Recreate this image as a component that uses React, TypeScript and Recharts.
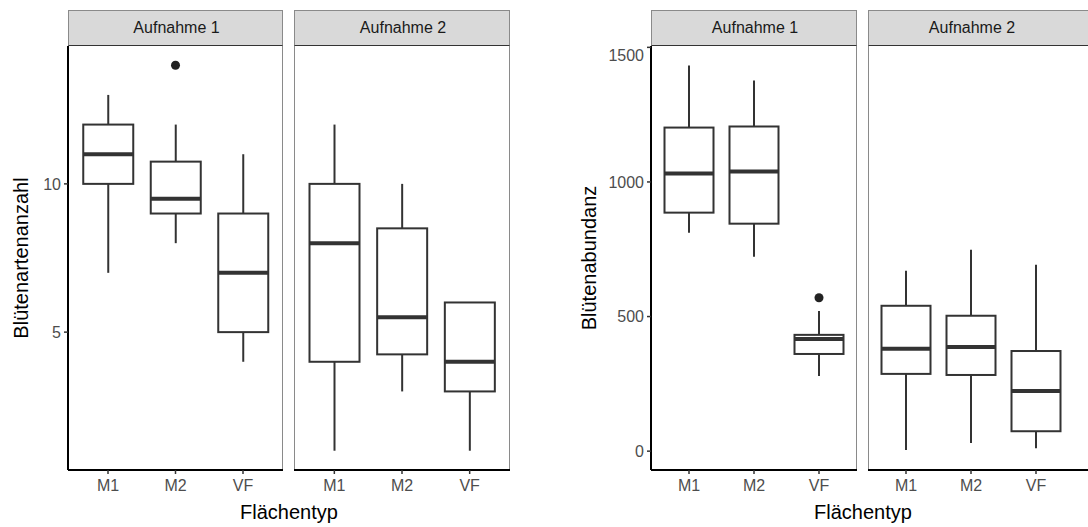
import React from 'react';
import { ComposedChart, Bar, Line, XAxis, YAxis } from 'recharts';

// Flächentypen (x-Kategorien)
const categories = ['M1', 'M2', 'VF'];

// Fünf-Punkte-Zusammenfassung je Flächentyp: [min, q1, median, q3, max]
const artenAufnahme1 = [
  [7, 10, 11, 12, 13],
  [8, 9, 9.5, 10.75, 12],
  [4, 5, 7, 9, 11],
];
const artenAufnahme2 = [
  [1, 4, 8, 10, 12],
  [3, 4.25, 5.5, 8.5, 10],
  [1, 3, 4, 6, 6],
];
const abundanzAufnahme1 = [
  [811, 886, 1031, 1202, 1433],
  [722, 845, 1039, 1206, 1377],
  [279, 361, 417, 432, 521],
];
const abundanzAufnahme2 = [
  [4, 287, 380, 540, 670],
  [30, 283, 387, 503, 748],
  [11, 74, 223, 372, 692],
];

// Ausreißer je Flächentyp
const artenAusreisser1 = [null, 14, null];
const artenAusreisser2 = [null, null, null];
const abundanzAusreisser1 = [null, null, 570];
const abundanzAusreisser2 = [null, null, null];

// Achsenticks
const artenTicks = [5, 10];
const abundanzTicks = [0, 500, 1000, 1500];

const stripLabels = ['Aufnahme 1', 'Aufnahme 2'];

const FONT = '"Liberation Sans", Arial, Helvetica, sans-serif';
const PANEL_TOP = 46;
const PANEL_H = 424;
const X_AXIS_H = 40;
const Y_AXIS_W = 60;

type Stats = number[];

const buildData = (stats: Stats[], outliers: (number | null)[]) =>
  categories.map((name, i) => ({
    name,
    lo: stats[i][0],
    q1: stats[i][1],
    med: stats[i][2],
    q3: stats[i][3],
    hi: stats[i][4],
    out: outliers[i],
  }));

// Boxplot aus einem Bereichsbalken [min, max]
const BoxShape = (props: any) => {
  const { x, y, width, height, payload } = props;
  if (x == null || y == null) return <g />;
  const top = Math.min(y, y + height);
  const h = Math.abs(height);
  const span = payload.hi - payload.lo;
  const py = (v: number) => top + (h * (payload.hi - v)) / span;
  const cx = x + width / 2;
  const yq3 = py(payload.q3);
  const yq1 = py(payload.q1);
  return (
    <g>
      <line x1={cx} x2={cx} y1={py(payload.hi)} y2={yq3} stroke="#333333" strokeWidth={2} />
      <line x1={cx} x2={cx} y1={yq1} y2={py(payload.lo)} stroke="#333333" strokeWidth={2} />
      <rect x={x} y={yq3} width={width} height={yq1 - yq3} fill="#ffffff" stroke="#333333" strokeWidth={2} />
      <line x1={x} x2={x + width} y1={py(payload.med)} y2={py(payload.med)} stroke="#333333" strokeWidth={4} />
    </g>
  );
};

const renderOutlier = (props: any) => {
  const { cx, cy, index, value } = props;
  if (value == null || cy == null) return <g key={`o-${index}`} />;
  return <circle key={`o-${index}`} cx={cx} cy={cy} r={4.5} fill="#222222" />;
};

interface PanelProps {
  left: number;
  width: number;
  padL: number;
  padR: number;
  stats: Stats[];
  outliers: (number | null)[];
  domain: [number, number];
  ticks: number[];
  showY: boolean;
  boxWidth: number;
  label: string;
  labelWidth: number;
}

function Panel({ left, width, padL, padR, stats, outliers, domain, ticks, showY, boxWidth, label, labelWidth }: PanelProps) {
  const data = buildData(stats, outliers);
  const yW = showY ? Y_AXIS_W : 0;
  const tickStyle = { fill: '#4D4D4D', fontSize: 16 };
  return (
    <>
      {/* Streifen */}
      <div
        style={{
          position: 'absolute',
          left,
          top: 10,
          width,
          height: 36,
          boxSizing: 'border-box',
          background: '#D9D9D9',
          border: '1px solid #8a8a8a',
          borderBottom: '1px solid #333333',
        }}
      >
        <div
          style={{
            position: 'absolute',
            left: 0,
            top: 0,
            width: labelWidth,
            lineHeight: '34px',
            textAlign: 'center',
            fontSize: 16,
            color: '#1A1A1A',
          }}
        >
          {label}
        </div>
      </div>
      {/* Panelrahmen */}
      <div
        style={{
          position: 'absolute',
          left,
          top: PANEL_TOP,
          width,
          height: PANEL_H,
          boxSizing: 'border-box',
          borderLeft: '1px solid #8a8a8a',
          borderRight: '1px solid #8a8a8a',
        }}
      />
      <div style={{ position: 'absolute', left: left - yW, top: PANEL_TOP }}>
        <ComposedChart
          width={width + yW}
          height={PANEL_H + X_AXIS_H}
          data={data}
          margin={{ top: 0, right: 0, bottom: 0, left: 0 }}
        >
          <XAxis
            dataKey="name"
            type="category"
            padding={{ left: padL, right: padR }}
            height={X_AXIS_H}
            tick={tickStyle}
            tickSize={4}
            tickMargin={6}
            tickLine={{ stroke: '#333333', strokeWidth: 1.5 }}
            axisLine={{ stroke: '#000000', strokeWidth: 2 }}
            interval={0}
          />
          <YAxis
            type="number"
            domain={domain}
            ticks={ticks}
            hide={!showY}
            width={Y_AXIS_W}
            tick={tickStyle}
            tickSize={4}
            tickMargin={3}
            tickLine={{ stroke: '#333333', strokeWidth: 1.5 }}
            axisLine={{ stroke: '#000000', strokeWidth: 2 }}
            allowDataOverflow
          />
          <Bar
            dataKey={(d: any) => [d.lo, d.hi]}
            barSize={boxWidth}
            shape={BoxShape}
            isAnimationActive={false}
          />
          <Line
            dataKey="out"
            stroke="none"
            dot={renderOutlier}
            activeDot={false}
            isAnimationActive={false}
          />
        </ComposedChart>
      </div>
    </>
  );
}

const titleStyle: React.CSSProperties = {
  position: 'absolute',
  fontSize: 20,
  lineHeight: '20px',
  color: '#000000',
  textAlign: 'center',
  whiteSpace: 'nowrap',
};

export default function App() {
  return (
    <div
      style={{
        position: 'absolute',
        left: 0,
        top: 0,
        width: 1088,
        height: 527,
        overflow: 'hidden',
        background: '#ffffff',
        fontFamily: FONT,
      }}
    >
      {/* Linke Grafik: Blütenartenanzahl */}
      <Panel left={68} width={215} padL={6.25} padR={6.25} stats={artenAufnahme1} outliers={artenAusreisser1}
        domain={[0.35, 14.65]} ticks={artenTicks} showY boxWidth={50} label={stripLabels[0]} labelWidth={215} />
      <Panel left={294} width={216} padL={6.5} padR={6.5} stats={artenAufnahme2} outliers={artenAusreisser2}
        domain={[0.35, 14.65]} ticks={artenTicks} showY={false} boxWidth={50} label={stripLabels[1]} labelWidth={216} />
      <div style={{ ...titleStyle, left: 21 - 150, top: 257.5 - 10, width: 300, transform: 'rotate(-90deg)' }}>
        Blütenartenanzahl
      </div>
      <div style={{ ...titleStyle, left: 289 - 100, top: 502, width: 200 }}>Flächentyp</div>

      {/* Rechte Grafik: Blütenabundanz */}
      <Panel left={651} width={206} padL={5.5} padR={5.5} stats={abundanzAufnahme1} outliers={abundanzAusreisser1}
        domain={[-70, 1505]} ticks={abundanzTicks} showY boxWidth={49} label={stripLabels[0]} labelWidth={206} />
      <Panel left={868} width={240} padL={5.5} padR={39.5} stats={abundanzAufnahme2} outliers={abundanzAusreisser2}
        domain={[-70, 1505]} ticks={abundanzTicks} showY={false} boxWidth={49} label={stripLabels[1]} labelWidth={206} />
      <div style={{ ...titleStyle, left: 589 - 150, top: 257.5 - 10, width: 300, transform: 'rotate(-90deg)' }}>
        Blütenabundanz
      </div>
      <div style={{ ...titleStyle, left: 863 - 100, top: 502, width: 200 }}>Flächentyp</div>
    </div>
  );
}
